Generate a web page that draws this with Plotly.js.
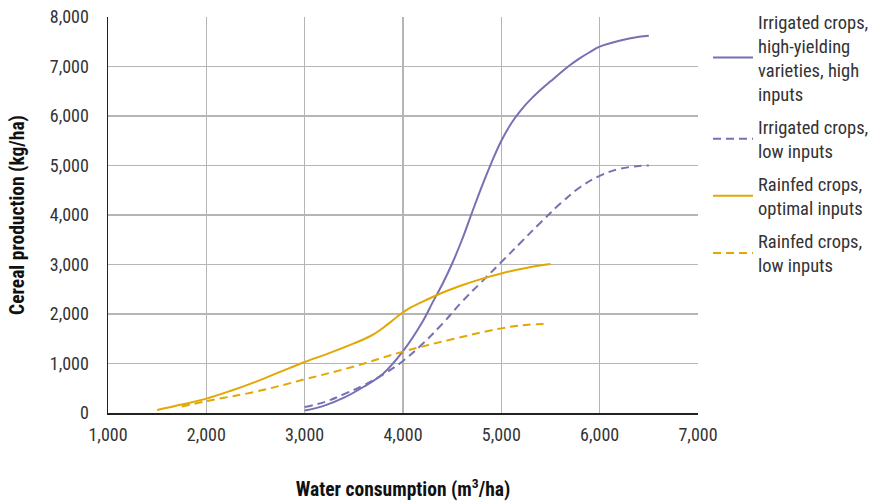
<!DOCTYPE html>
<html>
<head>
<meta charset="utf-8">
<script src="https://cdn.plot.ly/plotly-3.0.1.min.js"></script>
<style>html,body{margin:0;padding:0;background:#fff;}#chart{width:875px;height:502px;}</style>
</head>
<body>
<div id="chart"></div>
<script>
// Irrigated crops, high-yielding varieties, high inputs
const irrHighX = [3000,3200,3400,3600,3800,4000,4200,4300,4400,4500,4600,4700,4800,4900,5000,5100,5200,5300,5400,5500,5600,5700,5800,5900,6000,6200,6400,6500];
const irrHighY = [50,150,310,530,800,1250,1850,2230,2600,3020,3500,4040,4570,5060,5500,5850,6120,6340,6530,6700,6870,7030,7170,7290,7400,7520,7600,7620];
// Irrigated crops, low inputs
const irrLowX = [3000,3200,3400,3600,3800,4000,4200,4400,4600,4800,5000,5200,5400,5600,5800,6000,6200,6400,6500];
const irrLowY = [120,220,380,560,780,1050,1400,1800,2250,2650,3050,3450,3850,4230,4560,4790,4930,4990,5000];
// Rainfed crops, optimal inputs
const rainOptX = [1500,1750,2000,2250,2500,2750,3000,3250,3500,3700,3850,3950,4050,4200,4400,4600,4800,5000,5250,5500];
const rainOptY = [60,170,290,450,630,830,1030,1210,1405,1590,1800,1960,2100,2250,2430,2580,2710,2820,2930,3010];
// Rainfed crops, low inputs
const rainLowX = [1750,2000,2500,3000,3500,4000,4500,5000,5250,5480];
const rainLowY = [130,240,430,680,940,1240,1490,1710,1780,1800];

const seriesNames = [
  "Irrigated crops,<br>high-yielding<br>varieties, high<br>inputs",
  "Irrigated crops,<br>low inputs",
  "Rainfed crops,<br>optimal inputs",
  "Rainfed crops,<br>low inputs"
];
const xTicks = [1000,2000,3000,4000,5000,6000,7000];
const yTicks = [0,1000,2000,3000,4000,5000,6000,7000,8000];

// pick a condensed face if one is installed
function pickFont() {
  const ctx = document.createElement("canvas").getContext("2d");
  const s = "Irrigated crops, high-yielding 0123456789";
  const w = (f, st) => { ctx.font = f; ctx.fontStretch = st || "normal"; return ctx.measureText(s).width; };
  const mono = w("40px monospace");
  const cands = ["Liberation Sans Narrow", "Roboto Condensed", "DejaVu Sans Condensed", "Arial Narrow"];
  for (const c of cands) {
    if (w("40px '" + c + "', monospace") !== mono) return {family: "'" + c + "'", stretch: null};
  }
  const n = w("40px 'DejaVu Sans'", "normal"), cd = w("40px 'DejaVu Sans'", "condensed");
  if (cd < n - 1) return {family: "'DejaVu Sans'", stretch: "condensed"};
  return {family: "'Liberation Sans'", stretch: null};
}
const pf = pickFont();
if (pf.stretch) {
  const st = document.createElement("style");
  st.textContent = "svg text{font-stretch:" + pf.stretch + " !important;}";
  document.head.appendChild(st);
}
const FONT = pf.family + ", 'Liberation Sans', sans-serif";

const purple = "#7571b3";
const gold = "#e2a700";

const mk = (x, y, name, color, dash, grp) => ({
  x: x, y: y, name: name, type: "scatter", mode: "lines", legendgroup: grp,
  line: {color: color, width: 2, dash: dash, shape: "spline", smoothing: 1.1},
  hoverinfo: "skip"
});

const data = [
  mk(irrHighX, irrHighY, seriesNames[0], purple, "solid", "g1"),
  mk(irrLowX, irrLowY, seriesNames[1], purple, "8px,5px", "g2"),
  mk(rainOptX, rainOptY, seriesNames[2], gold, "solid", "g3"),
  mk(rainLowX, rainLowY, seriesNames[3], gold, "8px,5px", "g4")
];

const layout = {
  width: 875, height: 502,
  margin: {l: 108, r: 177, t: 17, b: 89, autoexpand: false},
  paper_bgcolor: "#fff", plot_bgcolor: "#fff",
  font: {family: FONT, size: 18, color: "#333"},
  showlegend: true,
  legend: {x: 1.017, xanchor: "left", y: 1.0355, yanchor: "top", maxheight: 1,
           font: {family: FONT, size: 18.5, color: "#333"},
           tracegroupgap: 6, itemwidth: 40, bgcolor: "rgba(0,0,0,0)"},
  xaxis: {
    range: [1000, 7000], tickvals: xTicks,
    tickformat: ",d", showgrid: true, gridcolor: "#b5b5b5", gridwidth: 1.5,
    showline: true, linecolor: "#222", linewidth: 1.5,
    ticks: "outside", ticklen: 5, tickcolor: "rgba(0,0,0,0)",
    zeroline: false,
    title: {text: "Water consumption (m<sup>3</sup>/ha)", standoff: 38,
            font: {family: FONT, size: 19.5, color: "#111", weight: "bold"}}
  },
  yaxis: {
    range: [0, 8000], tickvals: yTicks,
    tickformat: ",d", showgrid: true, gridcolor: "#b5b5b5", gridwidth: 1.5,
    showline: true, linecolor: "#222", linewidth: 1.5,
    ticks: "outside", ticklen: 14, tickcolor: "rgba(0,0,0,0)",
    zeroline: false,
    title: {text: "Cereal production (kg/ha)", standoff: 20,
            font: {family: FONT, size: 19.5, color: "#111", weight: "bold"}}
  }
};

Plotly.newPlot("chart", data, layout, {staticPlot: true, displayModeBar: false});
</script>
</body>
</html>
